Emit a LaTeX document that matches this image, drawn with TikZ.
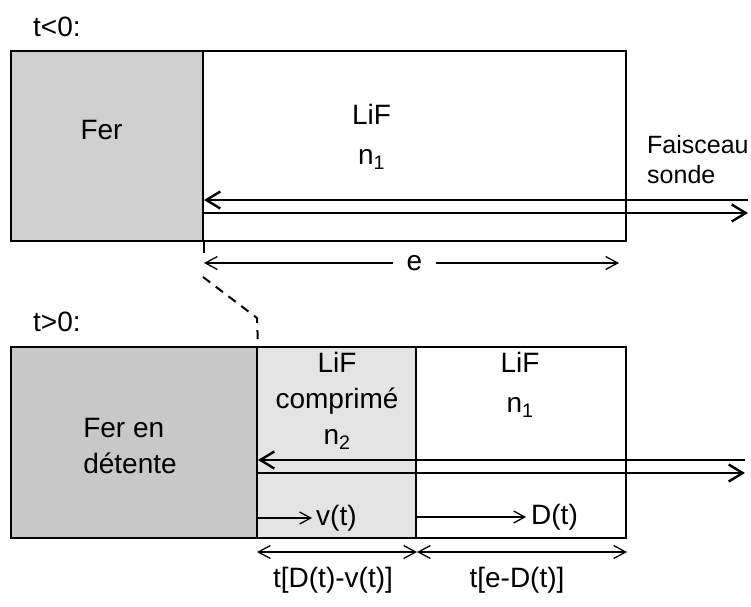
\documentclass[tikz,border=0pt]{standalone}
\usepackage{fontspec}
\setmainfont{Liberation Sans}
\usetikzlibrary{arrows.meta,positioning}
\definecolor{ferdot}{RGB}{208,208,208}
\definecolor{fergray}{RGB}{200,200,200}
\definecolor{compdot}{RGB}{228,228,228}
\tikzset{
  blk/.style={draw=black, line width=2pt, inner sep=0pt},
  txt/.style={font=\fontsize{28}{40}\selectfont, align=center, inner sep=0pt},
  txtc/.style={font=\fontsize{28}{36}\selectfont, align=center, inner sep=0pt},
  beam/.style={-{Straight Barb[length=14pt,width=17pt]}, line width=2.4pt},
  dim/.style={{Straight Barb[length=12pt,width=13pt]}-{Straight Barb[length=12pt,width=13pt]}, line width=1.3pt},
  vel/.style={-{Straight Barb[length=11pt,width=12pt]}, line width=1.3pt},
}

\begin{document}
\begin{tikzpicture}[x=1pt, y=-1pt]
  \useasboundingbox (0,0) rectangle (751,606);
  % t < 0
  \node[txt, anchor=west] (tneg) at (33,27) {t<0:};
  \node[blk, fill=ferdot, minimum width=192pt, minimum height=190pt] (fer0) at (107,146) {};
  \node[blk, minimum width=423pt, minimum height=190pt] (lif0) at (414.5,146) {};
  \node[txt] (fer0txt) at (101.5,130) {Fer};
  \node[txt] (lif0txt) at (371.5,137) {LiF\\n\textsubscript{1}};
  \node[font=\fontsize{25}{30}\selectfont, align=left, inner sep=0pt, anchor=west] (sonde) at (647,160) {Faisceau\\sonde};
  \coordinate (in0) at (748,200);
  \coordinate (out0) at (748,213);
  \draw[beam] (in0) -- (fer0.east |- in0);
  \draw[beam] (fer0.east |- out0) -- (out0);
  \coordinate (eend) at (619,263);
  \draw[dim] (fer0.east |- eend) -- (eend)
    node[pos=.507, fill=white, txt, inner xsep=14pt, inner ysep=2pt] (elab) {e};
  \draw[line width=2pt] (fer0.south east) -- ++(0,11);
  \coordinate (dstart) at (203,277);
  \coordinate (bend) at (257,318);
  % t > 0
  \node[txt, anchor=west] (tpos) at (33,322) {t>0:};
  \node[blk, fill=fergray, minimum width=246pt, minimum height=191pt] (ferL) at (134,442.5) {};
  \node[blk, fill=compdot, minimum width=159pt, minimum height=191pt] (comp) at (336.5,442.5) {};
  \node[blk, minimum width=210pt, minimum height=191pt] (lifL) at (521,442.5) {};
  \draw[line width=2pt, dash pattern=on 9pt off 7pt] (dstart) -- (bend) -- (ferL.north east);
  \node[txtc, align=left] (ferLtxt) at (130,445.5) {Fer en\\détente};
  \node[txtc] (comptxt) at (337,401) {LiF\\comprimé\\n\textsubscript{2}};
  \node[txt] (lifLtxt) at (520,385) {LiF\\n\textsubscript{1}};
  \coordinate (in1) at (745,460);
  \coordinate (out1) at (745,473);
  \draw[beam] (in1) -- (ferL.east |- in1);
  \draw[beam] (ferL.east |- out1) -- (out1);
  \coordinate (vtip) at (312,518);
  \draw[vel] (ferL.east |- vtip) -- (vtip);
  \node[txt, anchor=west] (vlab) at (316,518) {v(t)};
  \coordinate (dtip) at (526,517);
  \draw[vel] (comp.east |- dtip) -- (dtip);
  \node[txt, anchor=west] (dlab) at (531,517) {D(t)};
  \coordinate (dimL) at (257,552);
  \draw[dim] (dimL) -- (comp.east |- dimL);
  \draw[dim] (comp.east |- dimL) -- (lifL.east |- dimL);
  \node[txt] (dvlab) at (333,580) {t[D(t)-v(t)]};
  \node[txt] (edlab) at (517,580) {t[e-D(t)]};
\end{tikzpicture}
\end{document}
